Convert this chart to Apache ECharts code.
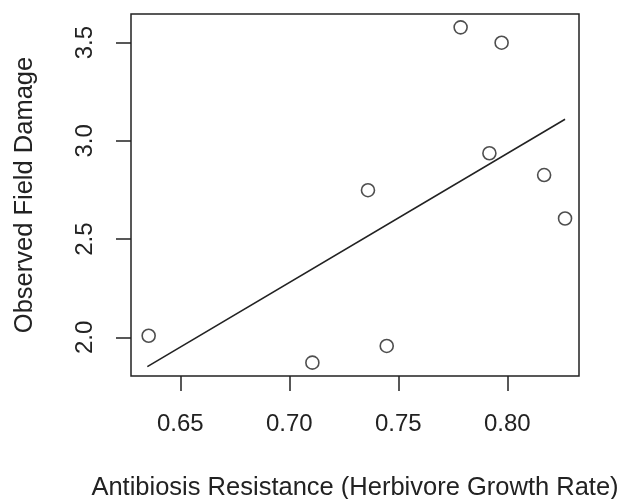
<!DOCTYPE html>
<html>
<head>
<meta charset="utf-8">
<script src="https://cdn.jsdelivr.net/npm/echarts@6/dist/echarts.min.js"></script>
<style>
  html, body { margin: 0; padding: 0; background: #fff; }
  #chartContainer { width: 626px; height: 499px; }
</style>
</head>
<body>
<div id="chartContainer"></div>
<script>
// data
var resistance = [0.6355, 0.7106, 0.7447, 0.7361, 0.7786, 0.7974, 0.7918, 0.8169, 0.8265];
var damage     = [2.008, 1.871, 1.956, 2.749, 3.578, 3.500, 2.937, 2.826, 2.605];

// fitted line, ends as drawn
var fitX = [0.6349, 0.8265];
var fitY = [1.851, 3.110];

var xTicks = [0.65, 0.70, 0.75, 0.80];
var yTicks = [2.0, 2.5, 3.0, 3.5];

var font = '"Liberation Sans", Arial, Helvetica, sans-serif';
var ink = '#222';

var myChart = echarts.init(document.getElementById('chartContainer'), null, { renderer: 'canvas' });

var points = resistance.map(function (x, i) { return [x, damage[i]]; });
var fitLine = fitX.map(function (x, i) { return [x, fitY[i]]; });

myChart.setOption({
    animation: false,
    grid: {
        left: 131, right: 47, top: 14, bottom: 123,
        containLabel: false, outerBoundsMode: 'none',
        show: true, borderColor: ink, borderWidth: 1.5, backgroundColor: 'transparent'
    },
    xAxis: {
        type: 'value',
        min: 0.6274, max: 0.8329,
        name: 'Antibiosis Resistance (Herbivore Growth Rate)',
        nameLocation: 'middle', nameGap: 99,
        nameTextStyle: { color: ink, fontSize: 25.5, fontFamily: font },
        axisLine: { show: false },
        splitLine: { show: false },
        axisTick: { show: true, inside: false, length: 15, customValues: xTicks,
                    lineStyle: { color: ink, width: 1.5 } },
        axisLabel: { customValues: xTicks, margin: 36, color: ink, fontSize: 24, fontFamily: font,
                     formatter: function (v) { return v.toFixed(2); } }
    },
    yAxis: {
        type: 'value',
        min: 1.803, max: 3.646,
        name: 'Observed Field Damage',
        nameLocation: 'middle', nameGap: 93, nameRotate: 90,
        nameTextStyle: { color: ink, fontSize: 25.5, fontFamily: font },
        axisLine: { show: false },
        splitLine: { show: false },
        axisTick: { show: true, inside: false, length: 15, customValues: yTicks,
                    lineStyle: { color: ink, width: 1.5 } },
        axisLabel: { customValues: yTicks, margin: 34, rotate: 90, color: ink, fontSize: 24, fontFamily: font,
                     formatter: function (v) { return v.toFixed(1); } }
    },
    series: [
        {
            type: 'scatter',
            data: points,
            symbol: 'circle',
            symbolSize: 13,
            itemStyle: { color: '#fff', borderColor: ink, borderWidth: 1.6 }
        },
        {
            type: 'line',
            data: fitLine,
            symbol: 'none',
            lineStyle: { color: ink, width: 1.6 }
        }
    ]
});
</script>
</body>
</html>
